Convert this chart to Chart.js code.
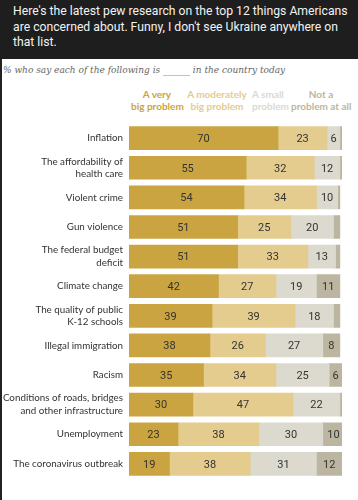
<!DOCTYPE html>
<html>
<head>
<meta charset="utf-8">
<script src="https://cdn.jsdelivr.net/npm/chart.js@4/dist/chart.umd.min.js"></script>
<style>
  html, body { margin: 0; padding: 0; background: #fff; }
  body { width: 358px; height: 500px; position: relative; overflow: hidden; }
  #post {
    position: absolute; left: 0; top: 0; width: 358px; height: 59px;
    background: #1e1e1e; color: #f2f2f2;
    font-family: Roboto, "Liberation Sans", Arial, sans-serif; font-size: 12.2px; line-height: 15.5px;
  }
  #post div { position: absolute; left: 13px; top: 4px; white-space: nowrap; }
  #panel { position: absolute; left: 0; top: 59px; width: 358px; height: 441px; border-left: 2px solid #222; box-sizing: border-box; }
  #sub {
    position: absolute; left: 3px; top: 65px; white-space: nowrap;
    font-family: "DejaVu Serif", Georgia, serif; font-style: italic; font-size: 9px; color: #666;
  }
  .head {
    position: absolute; top: 88px; font-family: Lato, Roboto, Arial, sans-serif;
    font-weight: bold; font-size: 10px; line-height: 12px; white-space: nowrap;
  }
  #chartWrap { position: absolute; left: 0; top: 111px; width: 358px; height: 380px; }
</style>
</head>
<body>
<div id="post"><div>Here's the latest pew research on the top 12 things Americans<br>are concerned about. Funny, I don't see Ukraine anywhere on<br>that list.</div></div>
<div id="panel"></div>
<div id="sub">% who say each of the following is ______ in the country today</div>
<div class="head" style="left:131px; width:52px; text-align:center; color:#c9a440;">A very<br>big problem</div>
<div class="head" style="left:187px; width:60px; text-align:center; color:#e3cc8e;">A moderately<br>big problem</div>
<div class="head" style="left:252px; text-align:left; color:#dcd9cf;">A small<br>problem</div>
<div class="head" style="left:291px; width:60px; text-align:center; color:#bcb6a0;">Not a<br>problem at all</div>
<div id="chartWrap"><canvas id="c" width="358" height="380"></canvas></div>
<script>
const categories = [
  'Inflation',
  ['The affordability of', 'health care'],
  'Violent crime',
  'Gun violence',
  ['The federal budget', 'deficit'],
  'Climate change',
  ['The quality of public', 'K-12 schools'],
  'Illegal immigration',
  'Racism',
  ['Conditions of roads, bridges', 'and other infrastructure'],
  'Unemployment',
  'The coronavirus outbreak'
];
const veryBig = [70, 55, 54, 51, 51, 42, 39, 38, 35, 30, 23, 19];
const moderatelyBig = [23, 32, 34, 25, 33, 27, 39, 26, 34, 47, 38, 38];
const small = [6, 12, 10, 20, 13, 19, 18, 27, 25, 22, 30, 31];
const notProblem = [1, 1, 1, 3, 2, 11, 3, 8, 6, 1, 10, 12];

const seriesNames = ['A very big problem', 'A moderately big problem', 'A small problem', 'Not a problem at all'];
const colors = ['#c9a440', '#e3cc8e', '#dcd9cf', '#bcb6a0'];

// writes the numbers in the middle of each segment
const segmentLabels = {
  id: 'segmentLabels',
  afterDatasetsDraw(chart) {
    const ctx = chart.ctx;
    ctx.save();
    ctx.font = '11px Roboto, "Liberation Sans", Arial, sans-serif';
    ctx.fillStyle = '#333';
    ctx.textAlign = 'center';
    ctx.textBaseline = 'middle';
    chart.data.datasets.forEach((ds, i) => {
      chart.getDatasetMeta(i).data.forEach((bar, j) => {
        const v = ds.data[j];
        if (v < 5) return;
        ctx.fillText(v, (bar.x + bar.base) / 2, bar.y + 1);
      });
    });
    ctx.restore();
  }
};

new Chart(document.getElementById('c'), {
  type: 'bar',
  data: {
    labels: categories,
    datasets: [veryBig, moderatelyBig, small, notProblem].map((d, i) => ({
      label: seriesNames[i],
      data: d,
      backgroundColor: colors[i],
      borderWidth: 0,
      barThickness: 23
    }))
  },
  options: {
    indexAxis: 'y',
    responsive: false,
    animation: false,
    layout: { padding: { left: 0, right: 16, top: 0, bottom: 0 } },
    plugins: { legend: { display: false }, tooltip: { enabled: false } },
    scales: {
      x: { stacked: true, min: 0, max: 100, display: false },
      y: {
        stacked: true,
        grid: { display: false, drawTicks: false },
        border: { display: false },
        ticks: {
          color: '#333',
          padding: 6,
          font: { family: 'Lato, Roboto, Arial, sans-serif', size: 9.8, lineHeight: 1.3 }
        },
        afterFit(scale) { scale.width = 129; }
      }
    }
  },
  plugins: [segmentLabels]
});
</script>
</body>
</html>
